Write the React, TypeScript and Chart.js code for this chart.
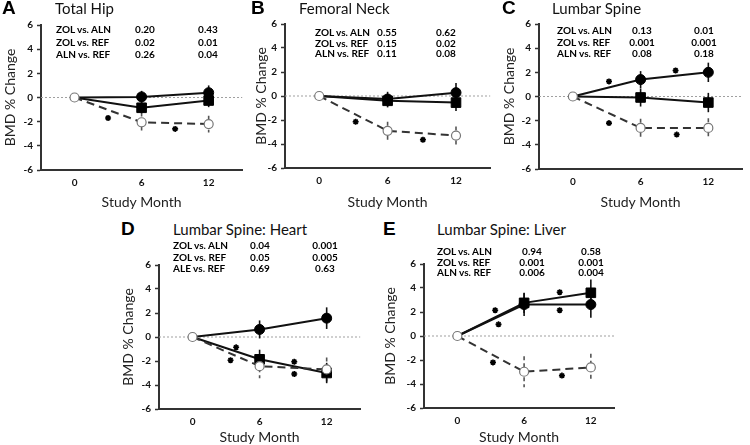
import React, { useEffect, useRef } from "react";
import { Chart, registerables } from "chart.js";
Chart.register(...registerables);

// ---------- shared data ----------
const months = [0, 6, 12];
const xTickValues = [0, 6, 12];
const statLabels = ["ZOL vs. ALN", "ZOL vs. REF", "ALN vs. REF"];
const statLabelsHeart = ["ZOL vs. ALN", "ZOL vs. REF", "ALE vs. REF"];

// ---------- A: Total Hip ----------
const hipZOL = [0, 0.05, 0.4];
const hipZOLErr = [0, 0.5, 0.6];
const hipALN = [0, -0.85, -0.25];
const hipALNErr = [0, 0.45, 0.55];
const hipREF = [0, -2.05, -2.2];
const hipREFErr = [0, 0.8, 0.7];
const hipStarX = [3, 9];
const hipStarY = [-1.7, -2.6];
const hipP6 = ["0.20", "0.02", "0.26"];
const hipP12 = ["0.43", "0.01", "0.04"];

// ---------- B: Femoral Neck ----------
const neckZOL = [0, -0.25, 0.28];
const neckZOLErr = [0, 0.6, 0.8];
const neckALN = [0, -0.4, -0.55];
const neckALNErr = [0, 0.55, 0.7];
const neckREF = [0, -2.9, -3.3];
const neckREFErr = [0, 0.75, 0.75];
const neckStarX = [3.2, 9.1];
const neckStarY = [-2.15, -3.65];
const neckP6 = ["0.55", "0.15", "0.11"];
const neckP12 = ["0.62", "0.02", "0.08"];

// ---------- C: Lumbar Spine ----------
const spineZOL = [0, 1.4, 2.0];
const spineZOLErr = [0, 0.7, 0.8];
const spineALN = [0, -0.08, -0.5];
const spineALNErr = [0, 0.75, 0.8];
const spineREF = [0, -2.6, -2.6];
const spineREFErr = [0, 0.75, 0.8];
const spineStarX = [3.2, 9.1, 3.2, 9.2];
const spineStarY = [1.25, 2.15, -2.2, -3.15];
const spineP6 = ["0.13", "0.001", "0.08"];
const spineP12 = ["0.01", "0.001", "0.18"];

// ---------- D: Lumbar Spine: Heart ----------
const heartZOL = [0, 0.63, 1.57];
const heartZOLErr = [0, 0.75, 0.9];
const heartALN = [0, -1.86, -3.0];
const heartALNErr = [0, 0.8, 0.85];
const heartREF = [0, -2.43, -2.7];
const heartREFErr = [0, 1.0, 1.0];
const heartStarX = [3.9, 3.4, 9.1, 9.1];
const heartStarY = [-0.86, -1.94, -2.06, -3.08];
const heartP6 = ["0.04", "0.05", "0.69"];
const heartP12 = ["0.001", "0.005", "0.63"];

// ---------- E: Lumbar Spine: Liver ----------
const liverZOL = [0, 2.62, 2.62];
const liverZOLErr = [0, 0.95, 1.1];
const liverALN = [0, 2.76, 3.6];
const liverALNErr = [0, 0.85, 1.1];
const liverREF = [0, -2.98, -2.62];
const liverREFErr = [0, 1.3, 1.15];
const liverStarX = [3.4, 3.7, 9.2, 9.2, 3.2, 9.4];
const liverStarY = [2.15, 0.97, 3.65, 2.15, -2.2, -3.3];
const liverP6 = ["0.94", "0.001", "0.006"];
const liverP12 = ["0.58", "0.001", "0.004"];

const FONT = "Lato, 'Open Sans', sans-serif";

const errorBarPlugin = {
  id: "errorBars",
  beforeDatasetsDraw(chart: any) {
    const { ctx, chartArea, scales } = chart;
    const x = scales.x;
    const y = scales.y;
    ctx.save();
    // zero reference line
    const y0 = y.getPixelForValue(0);
    ctx.strokeStyle = "#a0a0a0";
    ctx.lineWidth = 1;
    ctx.setLineDash([2, 2]);
    ctx.beginPath();
    ctx.moveTo(chartArea.left, y0);
    ctx.lineTo(chartArea.right, y0);
    ctx.stroke();
    chart.data.datasets.forEach((ds: any) => {
      if (!ds.errors) return;
      ctx.strokeStyle = ds.errColor;
      ctx.lineWidth = 1.6;
      ctx.setLineDash(ds.errDash || []);
      ds.data.forEach((pt: any, i: number) => {
        const e = ds.errors[i];
        if (!e) return;
        const px = x.getPixelForValue(pt.x);
        ctx.beginPath();
        ctx.moveTo(px, y.getPixelForValue(pt.y + e));
        ctx.lineTo(px, y.getPixelForValue(pt.y - e));
        ctx.stroke();
      });
    });
    ctx.restore();
  },
};

type PanelProps = {
  left: number; top: number; width: number; height: number;
  padTop: number; yW: number; xH: number; yTitlePad: number; xTitlePad: number; xMax: number;
  zol: number[]; zolErr: number[]; aln: number[]; alnErr: number[]; refv: number[]; refErr: number[];
  starX: number[]; starY: number[];
};

function Panel(p: PanelProps) {
  const ref = useRef<HTMLCanvasElement>(null);
  useEffect(() => {
    const mk = (vals: number[]) => months.map((m, i) => ({ x: m, y: vals[i] }));
    const tickFont = { family: FONT, size: 10, weight: "bold" as const };
    const chart = new Chart(ref.current as HTMLCanvasElement, {
      type: "line",
      data: {
        datasets: [
          {
            label: "REF", data: mk(p.refv), errors: p.refErr, errColor: "#555", errDash: [4, 3],
            borderColor: "#333", borderDash: [8, 5], borderWidth: 2, tension: 0,
            pointStyle: "circle", pointRadius: 4.5, pointBackgroundColor: "#fff",
            pointBorderColor: "#777", pointBorderWidth: 1.2,
          } as any,
          {
            label: "ZOL", data: mk(p.zol), errors: p.zolErr, errColor: "#111",
            borderColor: "#111", borderWidth: 2, tension: 0,
            pointStyle: "circle", pointRadius: [0, 5, 5], pointBackgroundColor: "#000",
            pointBorderColor: "#000", pointBorderWidth: 1,
          } as any,
          {
            label: "ALN", data: mk(p.aln), errors: p.alnErr, errColor: "#111",
            borderColor: "#111", borderWidth: 2, tension: 0,
            pointStyle: "rect", pointRadius: [0, 6.8, 6.8], pointBackgroundColor: "#000",
            pointBorderColor: "#000", pointBorderWidth: 1,
          } as any,
          {
            type: "scatter", label: "*", data: p.starX.map((x, i) => ({ x, y: p.starY[i] })),
            showLine: false, pointStyle: "star", pointRadius: 3,
            borderColor: "#000", pointBorderColor: "#000", borderWidth: 1.6, pointBorderWidth: 1.6,
          } as any,
        ],
      },
      options: {
        responsive: false,
        animation: false,
        events: [],
        layout: { padding: { top: p.padTop, left: 0, right: 0, bottom: 0 } },
        plugins: { legend: { display: false }, tooltip: { enabled: false } },
        scales: {
          x: {
            type: "linear", min: -3, max: p.xMax,
            afterBuildTicks: (s: any) => { s.ticks = xTickValues.map((v) => ({ value: v })); },
            afterFit: (s: any) => { s.height = p.xH; },
            grid: { display: true, drawOnChartArea: false, drawTicks: false },
            border: { display: true, color: "#333", width: 2 },
            ticks: { font: tickFont, color: "#111", padding: 7 },
            title: {
              display: true, text: "Study Month", color: "#222",
              font: { family: FONT, size: 14 }, padding: { top: 0, bottom: p.xTitlePad },
            },
          },
          y: {
            type: "linear", min: -6, max: 6,
            afterFit: (s: any) => { s.width = p.yW; },
            ticks: { stepSize: 2, font: tickFont, color: "#111", padding: 4 },
            grid: { drawOnChartArea: false, drawTicks: true, tickLength: 4, tickColor: "#333", tickWidth: 1.5 },
            border: { display: true, color: "#333", width: 2 },
            title: {
              display: true, text: "BMD % Change", color: "#222",
              font: { family: FONT, size: 14 }, padding: { top: p.yTitlePad + 0.6, bottom: 0 },
            },
          },
        },
      } as any,
      plugins: [errorBarPlugin],
    });
    return () => chart.destroy();
  }, []);
  return (
    <canvas
      ref={ref}
      width={p.width}
      height={p.height}
      style={{ position: "absolute", left: p.left, top: p.top, width: p.width, height: p.height }}
    />
  );
}

function Stats(props: { left: number; c1: number; c2: number; rows: number[]; labels: string[]; v6: string[]; v12: string[] }) {
  const base: React.CSSProperties = {
    position: "absolute", fontFamily: FONT, fontWeight: 700, fontSize: 10, lineHeight: "11px",
    color: "#000", whiteSpace: "nowrap",
  };
  return (
    <>
      {props.rows.map((y, i) => (
        <React.Fragment key={i}>
          <div style={{ ...base, left: props.left, top: y - 5.5 }}>{props.labels[i]}</div>
          <div style={{ ...base, left: props.c1, top: y - 5.5, transform: "translateX(-50%)" }}>{props.v6[i]}</div>
          <div style={{ ...base, left: props.c2, top: y - 5.5, transform: "translateX(-50%)" }}>{props.v12[i]}</div>
        </React.Fragment>
      ))}
    </>
  );
}

function Heading(props: { letter: string; letterLeft: number; title: string; titleLeft: number; cy: number }) {
  return (
    <>
      <div style={{
        position: "absolute", left: props.letterLeft, top: props.cy - 11, fontFamily: "'Liberation Sans', Arial, sans-serif",
        fontWeight: 700, fontSize: 19, lineHeight: "22px", color: "#000",
      }}>{props.letter}</div>
      <div style={{
        position: "absolute", left: props.titleLeft, top: props.cy - 9, fontFamily: FONT,
        fontSize: 15, lineHeight: "18px", color: "#111", whiteSpace: "nowrap",
      }}>{props.title}</div>
    </>
  );
}

export default function App() {
  return (
    <div style={{ position: "absolute", left: 0, top: 0, width: 750, height: 445, overflow: "hidden", background: "#fff" }}>
      <Panel left={0} top={12} width={250} height={205} padTop={13} yW={41} xH={47} yTitlePad={1.5} xTitlePad={6} xMax={15}
        zol={hipZOL} zolErr={hipZOLErr} aln={hipALN} alnErr={hipALNErr} refv={hipREF} refErr={hipREFErr}
        starX={hipStarX} starY={hipStarY} />
      <Panel left={250} top={11} width={248} height={206} padTop={13} yW={35} xH={49} yTitlePad={2} xTitlePad={6} xMax={15}
        zol={neckZOL} zolErr={neckZOLErr} aln={neckALN} alnErr={neckALNErr} refv={neckREF} refErr={neckREFErr}
        starX={neckStarX} starY={neckStarY} />
      <Panel left={500} top={11} width={250} height={206} padTop={13} yW={39} xH={48} yTitlePad={0} xTitlePad={6} xMax={15}
        zol={spineZOL} zolErr={spineZOLErr} aln={spineALN} alnErr={spineALNErr} refv={spineREF} refErr={spineREFErr}
        starX={spineStarX} starY={spineStarY} />
      <Panel left={118} top={250} width={250} height={200} padTop={15} yW={41} xH={41} yTitlePad={1} xTitlePad={4} xMax={15}
        zol={heartZOL} zolErr={heartZOLErr} aln={heartALN} alnErr={heartALNErr} refv={heartREF} refErr={heartREFErr}
        starX={heartStarX} starY={heartStarY} />
      <Panel left={380} top={250} width={242} height={200} padTop={14} yW={44} xH={42} yTitlePad={1} xTitlePad={4} xMax={14.1}
        zol={liverZOL} zolErr={liverZOLErr} aln={liverALN} alnErr={liverALNErr} refv={liverREF} refErr={liverREFErr}
        starX={liverStarX} starY={liverStarY} />

      <Heading letter="A" letterLeft={2} title="Total Hip" titleLeft={55} cy={8} />
      <Heading letter="B" letterLeft={251} title="Femoral Neck" titleLeft={299} cy={8} />
      <Heading letter="C" letterLeft={502} title="Lumbar Spine" titleLeft={552} cy={8} />
      <Heading letter="D" letterLeft={121} title="Lumbar Spine: Heart" titleLeft={173} cy={229} />
      <Heading letter="E" letterLeft={383} title="Lumbar Spine: Liver" titleLeft={437} cy={229} />

      <Stats left={56} c1={145} c2={208} rows={[29, 42, 54]} labels={statLabels} v6={hipP6} v12={hipP12} />
      <Stats left={315} c1={387} c2={446} rows={[32, 43, 53]} labels={statLabels} v6={neckP6} v12={neckP12} />
      <Stats left={557} c1={642} c2={704} rows={[30, 42, 53]} labels={statLabels} v6={spineP6} v12={spineP12} />
      <Stats left={173} c1={260} c2={325} rows={[245, 257, 268]} labels={statLabelsHeart} v6={heartP6} v12={heartP12} />
      <Stats left={437} c1={532} c2={591} rows={[251, 262, 272]} labels={statLabels} v6={liverP6} v12={liverP12} />
    </div>
  );
}
